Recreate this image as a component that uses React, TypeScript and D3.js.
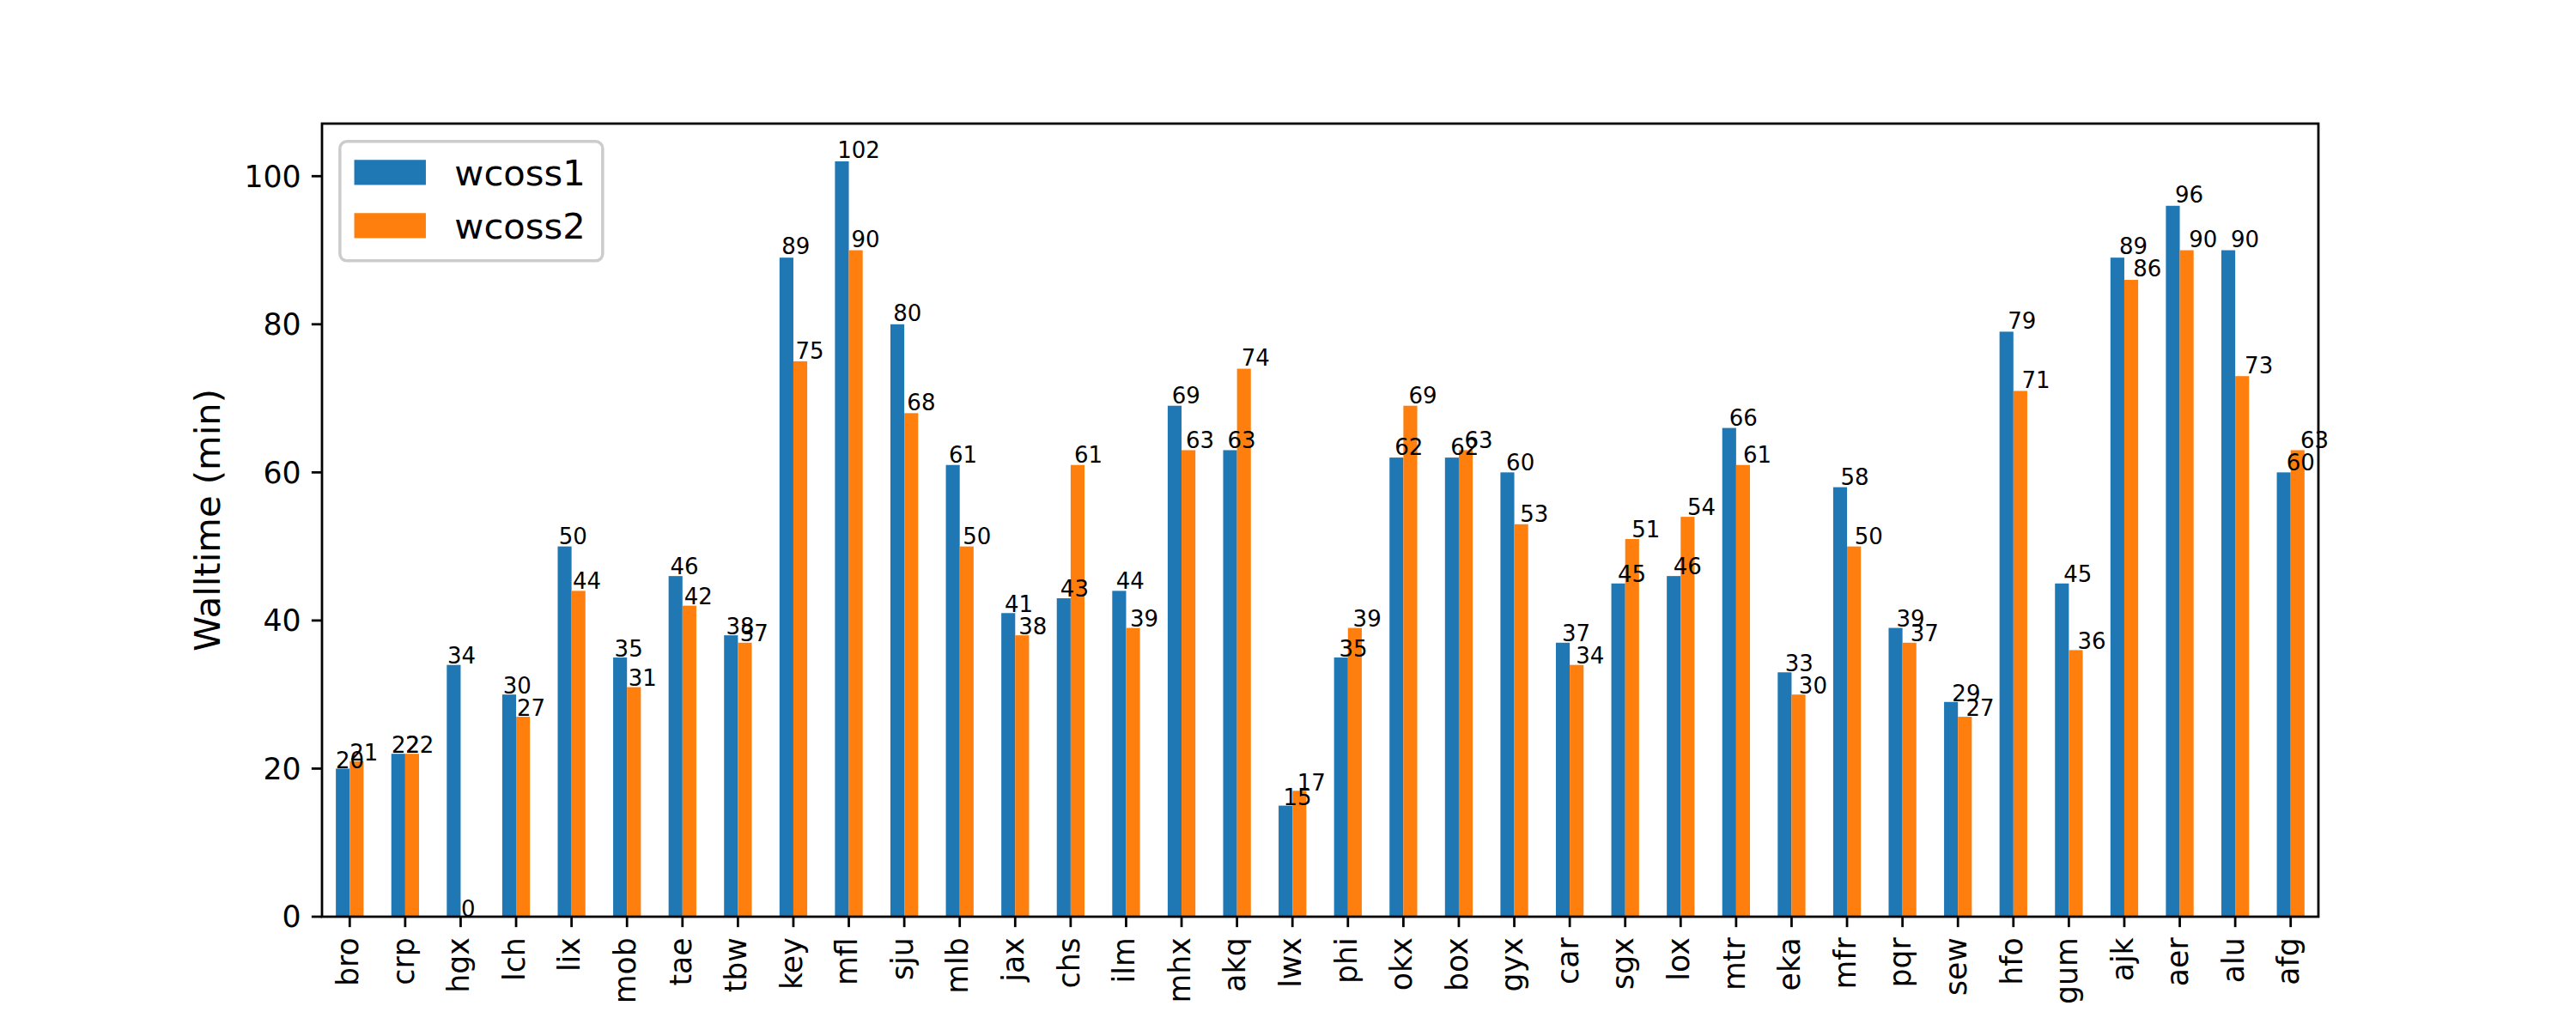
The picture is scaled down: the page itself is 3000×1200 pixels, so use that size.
import React from "react";
import * as d3 from "d3";

const categories = ["bro","crp","hgx","lch","lix","mob","tae","tbw","key","mfl","sju","mlb","jax","chs","ilm","mhx","akq","lwx","phi","okx","box","gyx","car","sgx","lox","mtr","eka","mfr","pqr","sew","hfo","gum","ajk","aer","alu","afg"];
const wcoss1 = [20,22,34,30,50,35,46,38,89,102,80,61,41,43,44,69,63,15,35,62,62,60,37,45,46,66,33,58,39,29,79,45,89,96,90,60];
const wcoss2 = [21,22,0,27,44,31,42,37,75,90,68,50,38,61,39,63,74,17,39,69,63,53,34,51,54,61,30,50,37,27,71,36,86,90,73,63];
const seriesNames = ["wcoss1", "wcoss2"];
const colors = ["#1f77b4", "#ff7f0e"];
const yTicks = [0, 20, 40, 60, 80, 100];
const yLabel = "Walltime (min)";

const W = 3000, H = 1200;
const L = 375, R = 2700, T = 144, B = 1068;
const FONT = "DejaVu Sans, sans-serif";
const LW = 2.78;
const TICK = 12.15, PAD = 12.15;

export default function App() {
  const series = [wcoss1, wcoss2];
  const n = categories.length;
  const maxV = d3.max(series.flat()) as number;
  const x = d3.scaleLinear().domain([-0.5, n - 0.5]).range([L, R]);
  const y = d3.scaleLinear().domain([0, maxV * 1.05]).range([B, T]);
  const bw = 0.25;

  const bars: JSX.Element[] = [];
  const labels: JSX.Element[] = [];
  series.forEach((vals, s) => {
    vals.forEach((v, i) => {
      const left = i - 0.25 + s * bw;
      bars.push(
        <rect key={`b${s}-${i}`} x={x(left)} y={y(v)} width={x(left + bw) - x(left)} height={y(0) - y(v)} fill={colors[s]} />
      );
      labels.push(
        <text key={`l${s}-${i}`} x={x(left * 1.005)} y={y(v * 1.005)} fontSize={26} fontFamily={FONT} fill="#000">{v}</text>
      );
    });
  });

  // legend geometry
  const lf = 41.7;
  const lx = L + 0.5 * lf, ly = T + 0.5 * lf;
  const lw = 306, lh = 139;
  const rowC = [ly + 36, ly + 98];

  return (
    <svg width={W} height={H} style={{ position: "absolute", left: 0, top: 0, background: "#fff" }} xmlns="http://www.w3.org/2000/svg">
      <rect x={0} y={0} width={W} height={H} fill="#fff" />
      {bars}
      {labels}
      {/* spines */}
      <rect x={L} y={T} width={R - L} height={B - T} fill="none" stroke="#000" strokeWidth={LW} strokeLinejoin="miter" />
      {/* y ticks */}
      {yTicks.map((t) => (
        <g key={`yt${t}`}>
          <line x1={L - TICK} x2={L} y1={y(t)} y2={y(t)} stroke="#000" strokeWidth={LW} />
          <text x={L - TICK - PAD} y={y(t)} dy="0.36em" textAnchor="end" fontSize={34.7} fontFamily={FONT} fill="#000">{t}</text>
        </g>
      ))}
      {/* x ticks */}
      {categories.map((c, i) => (
        <g key={`xt${c}`}>
          <line x1={x(i)} x2={x(i)} y1={B} y2={B + TICK} stroke="#000" strokeWidth={LW} />
          <text transform={`translate(${x(i)},${B + TICK + PAD}) rotate(-90)`} dy="0.28em" textAnchor="end" fontSize={34.7} fontFamily={FONT} fill="#000">{c}</text>
        </g>
      ))}
      {/* y label */}
      <text transform={`translate(256,${(T + B) / 2}) rotate(-90)`} textAnchor="middle" fontSize={41.7} fontFamily={FONT} fill="#000">{yLabel}</text>
      {/* legend */}
      <rect x={lx} y={ly} width={lw} height={lh} rx={8} ry={8} fill="#fff" fillOpacity={0.8} stroke="#cccccc" strokeWidth={3.5} />
      {seriesNames.map((name, s) => (
        <g key={`lg${name}`}>
          <rect x={lx + 16.7} y={rowC[s] - 14.6} width={83.4} height={29.2} fill={colors[s]} />
          <text x={lx + 16.7 + 83.4 + 33.4} y={rowC[s] + 15} fontSize={41.7} fontFamily={FONT} fill="#000">{name}</text>
        </g>
      ))}
    </svg>
  );
}
